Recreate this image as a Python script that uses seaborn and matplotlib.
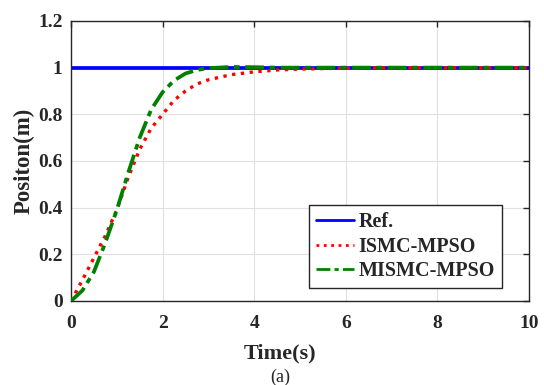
import numpy as np
import pandas as pd
import matplotlib
matplotlib.use("Agg")
import matplotlib.pyplot as plt
import seaborn as sns
from matplotlib.lines import Line2D

time = [0, 0.25, 0.5, 0.75, 1.0, 1.25, 1.5, 1.75, 2.0, 2.25, 2.5, 2.75, 3.0, 3.5, 4.0, 4.5, 5.0, 6.0, 7.0, 8.0, 10.0]
ref = [1.0] * len(time)
ismc = [0, 0.09, 0.185, 0.28, 0.39, 0.53, 0.65, 0.74, 0.80, 0.86, 0.90, 0.93, 0.948, 0.97, 0.982, 0.99, 0.994, 0.998, 1.0, 1.0, 1.0]
mismc = [0, 0.045, 0.125, 0.25, 0.39, 0.55, 0.70, 0.82, 0.895, 0.945, 0.975, 0.99, 0.998, 1.003, 1.002, 1.0, 1.0, 1.0, 1.0, 1.0, 1.0]
series_names = ["Ref.", "ISMC-MPSO", "MISMC-MPSO"]
x_ticks = [0, 2, 4, 6, 8, 10]
y_ticks = [0, 0.2, 0.4, 0.6, 0.8, 1.0, 1.2]
y_tick_labels = ["0", "0.2", "0.4", "0.6", "0.8", "1", "1.2"]

df = pd.concat([
    pd.DataFrame({"t": time, "y": ref, "s": series_names[0]}),
    pd.DataFrame({"t": time, "y": ismc, "s": series_names[1]}),
    pd.DataFrame({"t": time, "y": mismc, "s": series_names[2]}),
])

sns.set_style("whitegrid")
plt.rcParams['font.family'] = ['Liberation Serif', 'DejaVu Serif']

fig = plt.figure(figsize=(5.44, 3.85), dpi=100)
ax = fig.add_axes([0.1305, 0.2182, 0.842, 0.7273])

palette = {"Ref.": "#0000ff", "ISMC-MPSO": "#ff0000", "MISMC-MPSO": "#008000"}
sns.lineplot(data=df, x="t", y="y", hue="s", palette=palette, ax=ax, legend=False, estimator=None, sort=False)
styles = [("-", 2.7), (":", 2.4), ((0, (5, 1.5, 1.5, 1.5)), 2.7)]
lines = ax.get_lines()
for i, (line, (ls, lw)) in enumerate(zip(lines, styles)):
    line.set_linestyle(ls)
    line.set_linewidth(lw)
    line.set_zorder(2 + i)

ax.set_xlim(0, 10)
ax.set_ylim(0, 1.2)
ax.set_xticks(x_ticks)
ax.set_yticks(y_ticks)
ax.set_yticklabels(y_tick_labels)
ax.grid(True, color="#e0e0e0", linewidth=0.8)
for sp in ax.spines.values():
    sp.set_color("#262626")
    sp.set_linewidth(1.0)
    sp.set_visible(True)
ax.tick_params(axis="both", which="both", direction="in", length=4, width=1,
               top=True, right=True, labelsize=14, colors="#262626")
ax.tick_params(axis="x", pad=10)
ax.tick_params(axis="y", pad=6)
for lab in ax.get_xticklabels() + ax.get_yticklabels():
    lab.set_fontweight("bold")
ax.set_xlabel("")
ax.set_ylabel("")
fig.text(0.5155, 0.083, "Time(s)", ha="center", va="center", fontsize=16, fontweight="bold", color="#262626")
fig.text(0.5155, 0.02, "(a)", ha="center", va="center", fontsize=13, color="#262626")
fig.text(0.044, 0.5818, "Positon(m)", ha="center", va="center", rotation=90, fontsize=16.5, fontweight="bold", color="#262626")

handles = [Line2D([], [], color=palette[n], linestyle=s[0], linewidth=2.0) for n, s in zip(series_names, styles)]
leg = ax.legend(handles, series_names, loc="lower right", bbox_to_anchor=(0.941, 0.046),
                prop={"family": "Liberation Serif", "weight": "bold", "size": 14.5},
                frameon=True, fancybox=False, edgecolor="#262626", framealpha=1,
                handlelength=1.85, handletextpad=0.25, borderpad=0.35, labelspacing=0.22,
                borderaxespad=0)
leg.get_frame().set_linewidth(1.0)

fig.savefig("out.png", dpi=100)
